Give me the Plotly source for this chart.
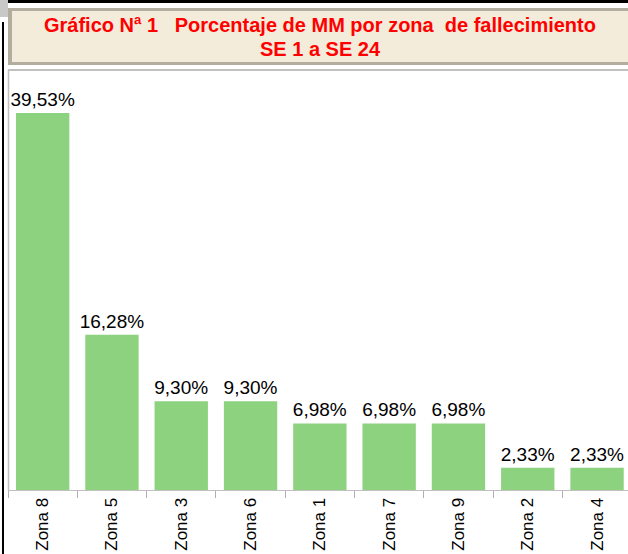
import plotly.graph_objects as go

categories = ["Zona 8", "Zona 5", "Zona 3", "Zona 6", "Zona 1", "Zona 7", "Zona 9", "Zona 2", "Zona 4"]
values = [39.53, 16.28, 9.30, 9.30, 6.98, 6.98, 6.98, 2.33, 2.33]
labels = ["39,53%", "16,28%", "9,30%", "9,30%", "6,98%", "6,98%", "6,98%", "2,33%", "2,33%"]

W, H = 628, 554
def px(x): return x / W
def py(y): return 1 - y / H

fig = go.Figure(go.Bar(
    x=categories, y=values, text=labels, textposition="outside",
    textfont=dict(size=19, color="black", family="Liberation Sans, Arial"),
    constraintext="none",
    marker=dict(color="#8dd27f", line=dict(width=0)),
    width=0.77, cliponaxis=False, hoverinfo="skip",
))

shapes = [
    # top black strip
    dict(type="rect", xref="paper", yref="paper", x0=px(8), x1=1, y0=py(3), y1=1,
         fillcolor="black", line=dict(width=0), layer="below"),
    # left gray block
    dict(type="rect", xref="paper", yref="paper", x0=0, x1=px(8), y0=py(17), y1=1,
         fillcolor="#c8c8c8", line=dict(width=0), layer="below"),
    # left black line
    dict(type="rect", xref="paper", yref="paper", x0=px(2), x1=px(4), y0=0, y1=py(22),
         fillcolor="black", line=dict(width=0), layer="below"),
    # title box border
    dict(type="rect", xref="paper", yref="paper", x0=px(8), x1=1, y0=py(65), y1=py(8),
         fillcolor="#b3ad9f", line=dict(width=0), layer="below"),
    dict(type="rect", xref="paper", yref="paper", x0=px(12), x1=1, y0=py(62), y1=py(11),
         fillcolor="#f4ecdb", line=dict(width=0), layer="below"),
    # plot box border
    dict(type="line", xref="paper", yref="paper", x0=px(8), x1=1, y0=py(70), y1=py(70),
         line=dict(color="#c0c0c0", width=2), layer="below"),
    dict(type="line", xref="paper", yref="paper", x0=px(8.5), x1=px(8.5), y0=py(490), y1=py(70),
         line=dict(color="#c0c0c0", width=1.5), layer="below"),
]

annotations = [
    dict(text="<b>Gráfico Nª 1   Porcentaje de MM por zona  de fallecimiento</b>",
         xref="paper", yref="paper", x=px(320), y=py(25), showarrow=False,
         font=dict(size=20, color="#ff0000", family="Liberation Sans, Arial"),
         xanchor="center", yanchor="middle"),
    dict(text="<b>SE 1 a SE 24</b>",
         xref="paper", yref="paper", x=px(320), y=py(49), showarrow=False,
         font=dict(size=20, color="#ff0000", family="Liberation Sans, Arial"),
         xanchor="center", yanchor="middle"),
]

fig.update_layout(
    width=W, height=H, margin=dict(l=0, r=0, t=0, b=0),
    paper_bgcolor="white", plot_bgcolor="white",
    showlegend=False, shapes=shapes, annotations=annotations,
    bargap=0.23,
    xaxis=dict(domain=[px(8), 1], range=[-0.5, -0.5 + 620 / 69.3],
               tickangle=-90, tickson="boundaries", ticks="outside", ticklen=7,
               tickcolor="#b0b0b0", showline=True, linecolor="#c0c0c0", linewidth=1,
               tickfont=dict(size=17, color="black", family="Liberation Sans, Arial"),
               showgrid=False, fixedrange=True),
    yaxis=dict(domain=[py(490), py(70)], range=[0, 420 / 9.537], visible=False,
               showgrid=False, fixedrange=True),
)

fig.write_html("out.html", config={"displayModeBar": False, "staticPlot": True},
               post_script="document.body.style.margin='0';document.body.style.overflow='hidden';")
